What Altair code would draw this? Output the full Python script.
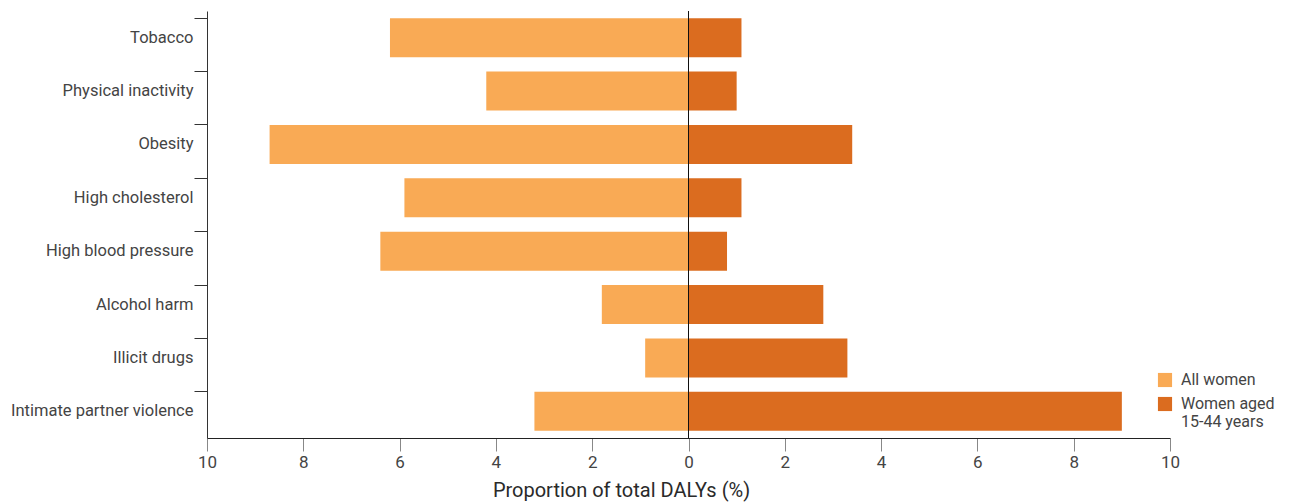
import altair as alt
import pandas as pd

risks = [
    "Tobacco",
    "Physical inactivity",
    "Obesity",
    "High cholesterol",
    "High blood pressure",
    "Alcohol harm",
    "Illicit drugs",
    "Intimate partner violence",
]
all_women = [6.2, 4.2, 8.7, 5.9, 6.4, 1.8, 0.9, 3.2]
women_15_44 = [1.1, 1.0, 3.4, 1.1, 0.8, 2.8, 3.3, 9.0]
groups = ["All women", "Women aged 15-44 years"]
colors = ["#F9AA55", "#DB6C1F"]
x_ticks = [-10, -8, -6, -4, -2, 0, 2, 4, 6, 8, 10]

rows = []
for r, a, b in zip(risks, all_women, women_15_44):
    rows.append({"risk": r, "group": groups[0], "value": -a})
    rows.append({"risk": r, "group": groups[1], "value": b})
df = pd.DataFrame(rows)

font = "Roboto"

bars = alt.Chart(df).mark_bar().encode(
    y=alt.Y(
        "risk:N",
        sort=risks,
        scale=alt.Scale(paddingInner=0.27, paddingOuter=0.135),
        axis=alt.Axis(
            title=None,
            bandPosition=0,
            tickSize=13,
            tickColor="#333333",
            domainColor="#333333",
            labelPadding=1,
            labelFontSize=16.5,
            labelColor="#444444",
            labelFont=font,
            labelLimit=400,
        ),
    ),
    x=alt.X(
        "value:Q",
        stack=None,
        scale=alt.Scale(domain=[-10, 10], nice=False),
        axis=alt.Axis(
            values=x_ticks,
            labelExpr="abs(datum.value)",
            labelFlush=False,
            title="Proportion of total DALYs (%)",
            titleX=414,
            titleAlign="center",
            titleFontSize=20,
            titleFontWeight="normal",
            titleColor="#2a2a2a",
            titleFont=font,
            titlePadding=10,
            tickSize=13,
            tickColor="#888888",
            domainColor="#222222",
            labelFontSize=17,
            labelColor="#444444",
            labelFont=font,
            labelPadding=3,
            grid=False,
        ),
    ),
    color=alt.Color(
        "group:N",
        scale=alt.Scale(domain=groups, range=colors),
        legend=alt.Legend(
            title=None,
            orient="none",
            legendX=950,
            legendY=361,
            symbolType="square",
            symbolSize=200,
            symbolStrokeWidth=0,
            labelFontSize=16,
            labelColor="#444444",
            labelFont=font,
            labelOffset=8,
            rowPadding=8,
            labelExpr="datum.label == 'Women aged 15-44 years' ? ['Women aged', '15-44 years'] : datum.label",
        ),
    ),
)

zero = alt.Chart(pd.DataFrame({"x": [0]})).mark_rule(color="#111111", strokeWidth=1).encode(
    x="x:Q"
)

chart = (
    alt.layer(bars, zero)
    .properties(width=963, height=427, padding={"left": 10, "top": 10, "right": 5, "bottom": 5})
    .configure_view(stroke=None)
)

chart.save("out.html", embed_options={"renderer": "svg", "actions": False})
